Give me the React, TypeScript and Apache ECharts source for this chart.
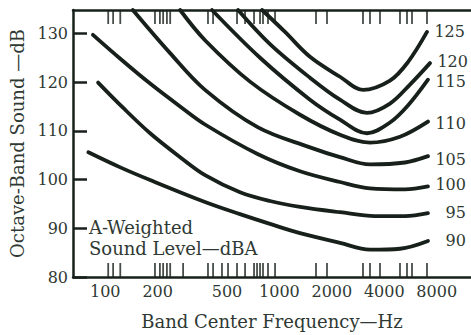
import { useEffect, useRef } from 'react';
import * as echarts from 'echarts';

const INK = '#18201b';
const TEXT = '#2f3933';
const FONT = '"DejaVu Serif", "Liberation Serif", serif';

// A-weighted sound level of each curve (dBA)
const levels = [90, 95, 100, 105, 110, 115, 120, 125];

// Octave-band levels (dB), at band centre frequency (Hz)
const freq90 = [80, 122, 181, 374, 594, 883, 1313, 2227, 3312, 4924, 7129];
const db90 = [105.6, 102.5, 99.9, 95.4, 92.9, 90.9, 89.0, 87.0, 85.6, 85.8, 87.4];

const freq95 = [91, 126, 181, 269, 374, 594, 883, 1313, 2227, 3538, 5260, 7129];
const db95 = [119.9, 114.8, 109.5, 104.6, 100.9, 97.4, 95.6, 94.4, 93.3, 92.5, 92.5, 93.1];

const freq100 = [85, 122, 181, 269, 374, 754, 1313, 2227, 3312, 5260, 7129];
const db100 = [129.7, 124.8, 119.7, 115.0, 111.3, 105.2, 101.7, 99.5, 98.2, 98.0, 98.6];

const freq105 = [144, 235, 374, 754, 1498, 2227, 3312, 5260, 7129];
const db105 = [134.8, 126.0, 118.4, 110.7, 106.6, 104.6, 103.1, 103.5, 104.8];

const freq110 = [269, 374, 678, 1313, 2227, 3312, 4924, 7129];
const db110 = [134.8, 128.6, 120.1, 113.3, 109.2, 107.6, 108.8, 111.9];

const freq115 = [410, 774, 1498, 2227, 3183, 4314, 5470, 7129];
const db115 = [134.8, 125.0, 116.4, 112.3, 109.5, 111.7, 115.2, 120.5];

const freq120 = [579, 883, 1498, 2227, 3183, 4314, 5620, 7320];
const db120 = [134.8, 127.8, 120.9, 116.4, 113.7, 115.6, 119.5, 123.9];

const freq125 = [795, 1077, 1498, 2227, 3019, 4314, 5470, 7036];
const db125 = [134.8, 130.3, 125.2, 121.1, 118.4, 120.3, 124.1, 130.3];

const curveFreqs = [freq90, freq95, freq100, freq105, freq110, freq115, freq120, freq125];
const curveDbs = [db90, db95, db100, db105, db110, db115, db120, db125];

// vertical nudge (px) of each end label relative to its curve end
const endLabelDy = [0, -1, -2, 3, 2, 2, -2, 0];

// Axis tick labels
const xTickLabels = [100, 200, 500, 1000, 2000, 4000, 8000];
const yTickLabels = [80, 90, 100, 110, 120, 130];

// Short marks along the top and bottom frame (Hz)
const bottomTickFreqs = [104, 111, 122, 193, 206, 215, 226, 236, 280, 389, 416, 468, 507, 571, 635, 715, 744, 774, 805, 860, 944, 1622, 1876, 3019, 3312, 3780, 4924, 5401, 5771, 7036];
const topTickFreqs = [104, 111, 122, 193, 206, 215, 226, 236, 389, 416, 571, 635, 715, 774, 805, 860, 944, 1622, 1876, 3019, 3312, 3780, 4924, 5401, 5771, 7036];

const Y_MIN = 80;
const Y_MAX = 134.8;
const X_MIN_HZ = 65.3;
const X_MAX_HZ = 12590;

export default function App() {
  const ref = useRef<HTMLDivElement>(null);

  useEffect(() => {
    if (!ref.current) return;
    const chart = echarts.init(ref.current, undefined, { renderer: 'svg' });

    const xMin = Math.log10(X_MIN_HZ);
    const xMax = Math.log10(X_MAX_HZ);
    const xLabelVals = xTickLabels.map((f) => Math.log10(f));

    const curveSeries = levels.map((lv, i) => ({
      type: 'line',
      name: String(lv),
      data: curveFreqs[i].map((f, j) => [Math.log10(f), curveDbs[i][j]]),
      smooth: 0.35,
      symbol: 'none',
      showSymbol: false,
      silent: true,
      z: 3,
      lineStyle: { color: INK, width: 3.8, cap: 'round' },
      endLabel: {
        show: true,
        formatter: String(lv),
        color: TEXT,
        fontFamily: FONT,
        fontSize: 16,
        align: 'right',
        offset: [30, endLabelDy[i]],
      },
    }));

    const tickSeries = [
      {
        type: 'scatter',
        data: bottomTickFreqs.map((f) => [Math.log10(f), Y_MIN]),
        symbol: 'rect',
        symbolSize: [1.8, 14],
        symbolOffset: [0, '-50%'],
        itemStyle: { color: INK },
        clip: false,
        silent: true,
        z: 2,
      },
      {
        type: 'scatter',
        data: topTickFreqs.map((f) => [Math.log10(f), Y_MAX]),
        symbol: 'rect',
        symbolSize: [1.8, 14],
        symbolOffset: [0, '50%'],
        itemStyle: { color: INK },
        clip: false,
        silent: true,
        z: 2,
      },
    ];

    chart.setOption({
      animation: false,
      backgroundColor: '#ffffff',
      textStyle: { fontFamily: FONT },
      grid: { left: 73, right: 0, top: 10, bottom: 57, containLabel: false },
      xAxis: [
        {
          type: 'value',
          min: xMin,
          max: xMax,
          position: 'bottom',
          axisLine: { show: true, lineStyle: { color: INK, width: 2.5 } },
          axisTick: { show: false },
          splitLine: { show: false },
          axisLabel: {
            customValues: xLabelVals,
            formatter: (v: number) => String(Math.round(Math.pow(10, v))),
            color: TEXT,
            fontFamily: FONT,
            fontSize: 16,
            margin: 6,
          },
          name: 'Band Center Frequency\u2014Hz',
          nameLocation: 'middle',
          nameGap: 35,
          nameTextStyle: { color: TEXT, fontFamily: FONT, fontSize: 18 },
        },
        {
          type: 'value',
          min: xMin,
          max: xMax,
          position: 'top',
          axisLine: { show: true, lineStyle: { color: INK, width: 2.5 } },
          axisTick: { show: false },
          axisLabel: { show: false },
          splitLine: { show: false },
        },
      ],
      yAxis: {
        type: 'value',
        min: Y_MIN,
        max: Y_MAX,
        interval: 10,
        axisLine: { show: true, lineStyle: { color: INK, width: 2.5 } },
        axisTick: {
          show: true,
          inside: true,
          length: 14,
          customValues: yTickLabels,
          lineStyle: { color: INK, width: 2.5 },
        },
        axisLabel: {
          customValues: yTickLabels,
          color: TEXT,
          fontFamily: FONT,
          fontSize: 16,
          margin: 5,
        },
        splitLine: { show: false },
        name: 'Octave-Band Sound \u2014dB',
        nameLocation: 'middle',
        nameGap: 46,
        nameRotate: 90,
        nameTextStyle: { color: TEXT, fontFamily: FONT, fontSize: 18 },
      },
      graphic: [
        {
          type: 'text',
          x: 89,
          y: 217,
          silent: true,
          style: {
            text: 'A-Weighted\nSound Level\u2014dBA',
            fill: TEXT,
            fontFamily: FONT,
            fontSize: 18,
            lineHeight: 21,
            verticalAlign: 'top',
            align: 'left',
          },
        },
      ],
      series: [...tickSeries, ...curveSeries],
    });

    return () => chart.dispose();
  }, []);

  return (
    <div
      ref={ref}
      style={{ position: 'fixed', left: 0, top: 0, width: 471, height: 335, background: '#fff' }}
    />
  );
}
